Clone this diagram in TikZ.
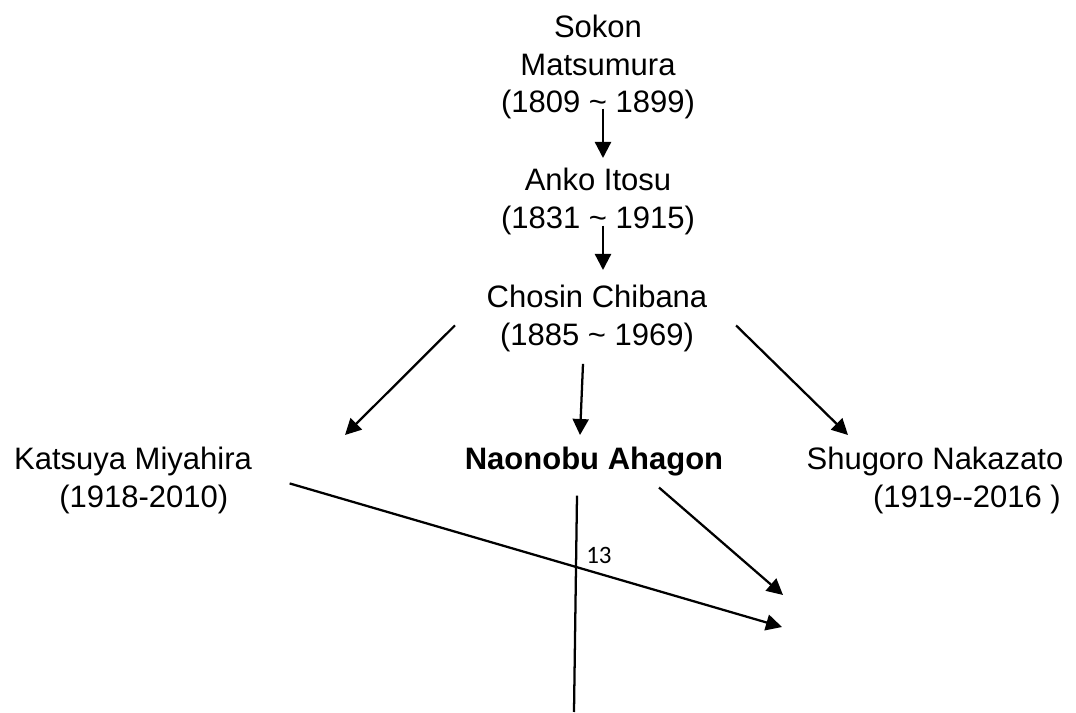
\documentclass[tikz,border=0pt]{standalone}
\usepackage{fontspec}
\setmainfont{Liberation Sans}
\newfontfamily\numfont{Carlito}
\usetikzlibrary{arrows.meta,calc}

\begin{document}
\begin{tikzpicture}[x=0.75pt,y=-0.75pt,
  person/.style={font=\fontsize{23.25}{28.1}\selectfont, align=center, inner sep=0pt, anchor=north},
  arr/.style={line width=1.7pt, -{Triangle[length=12pt,width=12pt]}},
  plain/.style={line width=1.7pt}]
\useasboundingbox (0,0) rectangle (1076,713);
% lineage
\node[person] (sokon) at (598,15) {Sokon\\Matsumura\\(1809 \textasciitilde{} 1899)};
\node[person] (anko) at (598,168) {Anko Itosu\\(1831 \textasciitilde{} 1915)};
\node[person] (chosin) at (597,285) {Chosin Chibana\\(1885 \textasciitilde{} 1969)};
%
\node[person] (katsuya) at (133,447) {Katsuya Miyahira\\\hspace*{0.7em}(1918-2010)};
\node[person, font=\fontsize{23.25}{28.1}\selectfont\bfseries] (naonobu) at (594,447) {Naonobu Ahagon};
\node[person] (shugoro) at (935,447) {Shugoro Nakazato\\\hspace*{2.06em}(1919-{}-2016 )};
%
\coordinate (tgtA) at (783,595);
\coordinate (tgtB) at (782,627);
\coordinate (low) at (574,712);
%
\draw[arr] ($(sokon.south)+(5,-10.7)$) -- ($(anko.north)+(5,-10)$);
\draw[arr] ($(anko.south)+(5,-9.2)$) -- ($(chosin.north)+(6,-15)$);
%
\draw[arr] ($(chosin.west)+(-31.5,7)$) -- ($(katsuya.north)+(212,-12)$);
\draw[arr] ($(chosin.south)+(-14,12)$) -- ($(naonobu.north)+(-14,-12)$);
\draw[arr] ($(chosin.east)+(28.5,7)$) -- ($(shugoro.north)+(-87,-12)$);
%
\draw[arr] ($(katsuya.east)+(37.5,3)$) -- (tgtB);
\draw[arr] ($(naonobu.south)+(65,11)$) -- (tgtA);
\draw[plain] ($(naonobu.south)+(-17,19)$) -- (low);
\node[font=\numfont\fontsize{18.75}{20}\selectfont, inner sep=0pt, anchor=base west] (num) at (586,563) {13};
\end{tikzpicture}
\end{document}
